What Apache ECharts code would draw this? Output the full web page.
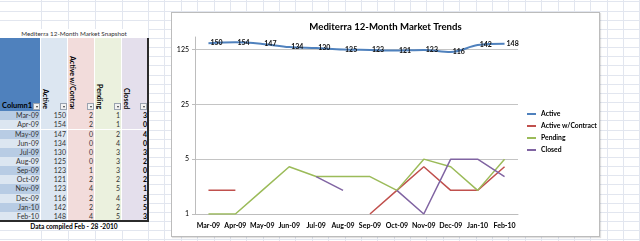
<!DOCTYPE html>
<html>
<head>
<meta charset="utf-8">
<script src="https://cdn.jsdelivr.net/npm/echarts@6/dist/echarts.min.js"></script>
<style>
  html, body { margin: 0; padding: 0; background: #fff; }
  body { width: 640px; height: 241px; position: relative; overflow: hidden; font-family: Lato, 'Liberation Sans', sans-serif; }
  .gl { position: absolute; background: #e2e6ef; }
  .cell { position: absolute; box-sizing: border-box; }
  .txt { position: absolute; font-size: 7px; color: #222; white-space: nowrap; }
  .vt { position: absolute; writing-mode: vertical-rl; font-size: 7px; font-weight: bold; color: #000; white-space: nowrap; overflow: hidden; }
  .btn { position: absolute; width: 7px; height: 7px; box-sizing: border-box; border: 1px solid #9aa3b0; background: #f2f2f2; }
  .btn:after { content: ''; position: absolute; left: 1.5px; top: 2px; border-left: 1.5px solid transparent; border-right: 1.5px solid transparent; border-top: 2px solid #333; }
  #frame { position: absolute; left: 171px; top: 12px; width: 427px; height: 223px; border: 1px solid #bcbcbc; background: #fff; box-shadow: 1px 1px 1px rgba(0,0,0,0.12); }
  #chart { width: 427px; height: 223px; }
</style>
</head>
<body>
<div id="sheet"></div>
<div id="frame"><div id="chart"></div></div>
<script>
const months = ['Mar-09', 'Apr-09', 'May-09', 'Jun-09', 'Jul-09', 'Aug-09', 'Sep-09', 'Oct-09', 'Nov-09', 'Dec-09', 'Jan-10', 'Feb-10'];
const active = [150, 154, 147, 134, 130, 125, 123, 121, 123, 116, 142, 148];
const activeContract = [2, 2, 0, 0, 0, 0, 1, 2, 4, 2, 2, 4];
const pending = [1, 1, 2, 4, 3, 3, 3, 2, 5, 4, 2, 5];
const closed = [3, 0, 4, 0, 3, 2, 0, 2, 1, 5, 5, 3];
const seriesNames = ['Active', 'Active w/Contract', 'Pending', 'Closed'];
const yTicks = [1, 5, 25, 125];

// ---- spreadsheet backdrop ----
const sheet = document.getElementById('sheet');
const ROW0 = 1.4, ROWH = 9.15;
const colEdges = [41, 68, 95, 122, 148];
for (let x = 148 + 16.38; x < 640; x += 16.38) colEdges.push(x);

function add(cls, style, text) {
  const d = document.createElement('div');
  d.className = cls;
  Object.assign(d.style, style);
  if (text != null) d.textContent = text;
  sheet.appendChild(d);
  return d;
}
for (let k = 0; k < 27; k++) add('gl', { left: '0px', top: (ROW0 + ROWH * k) + 'px', width: '640px', height: '1px' });
colEdges.forEach(x => add('gl', { left: x + 'px', top: '0px', width: '1px', height: '241px' }));

// ---- table ----
const cols = [
  { x0: 0, x1: 41, head: '#4f81bd', fill: ['#b8cce4', '#dce6f1'] },
  { x0: 41, x1: 68, head: '#dce6f1', fill: ['#dce6f1', '#dce6f1'] },
  { x0: 68, x1: 95, head: '#f2dcdb', fill: ['#f2dcdb', '#f2dcdb'] },
  { x0: 95, x1: 122, head: '#ebf1de', fill: ['#ebf1de', '#ebf1de'] },
  { x0: 122, x1: 148, head: '#e4dfec', fill: ['#e4dfec', '#e4dfec'] }
];
const headTop = ROW0 + ROWH * 4, rowTop = ROW0 + ROWH * 12, tableBottom = ROW0 + ROWH * 24;

add('cell', { left: '0px', top: headTop + 'px', width: '148px', height: (tableBottom - headTop) + 'px', background: '#fff' });
cols.forEach((c, ci) => {
  add('cell', { left: c.x0 + 'px', top: headTop + 'px', width: (c.x1 - c.x0 - 1) + 'px', height: (rowTop - headTop) + 'px', background: c.head });
  months.forEach((m, i) => {
    add('cell', { left: c.x0 + 'px', top: (rowTop + ROWH * i) + 'px', width: (c.x1 - c.x0 - 1) + 'px', height: ROWH + 'px', background: c.fill[i % 2] });
  });
  add('btn', { left: (c.x1 - 8) + 'px', top: '102.5px' });
});

add('txt', { left: '0px', top: '29px', width: '148px', textAlign: 'center', fontSize: '6.3px', color: '#333', lineHeight: '9px', background: '#fff' }, 'Mediterra 12-Month Market Snapshot');
add('txt', { left: '2px', top: '101px', fontWeight: 'bold', color: '#000', fontSize: '7.5px', lineHeight: '9px' }, 'Column1');
add('vt', { left: '42px', bottom: '132px' }, 'Active');
add('vt', { left: '69px', top: '56px', height: '53px' }, 'Active w/Contract');
add('vt', { left: '96px', bottom: '132px' }, 'Pending');
add('vt', { left: '123px', bottom: '132px' }, 'Closed');

const valueCols = [months, active, activeContract, pending, closed];
valueCols.forEach((arr, ci) => {
  const c = cols[ci];
  arr.forEach((v, i) => {
    add('txt', {
      left: c.x0 + 'px', top: (rowTop + ROWH * i) + 'px', width: (c.x1 - c.x0 - (ci === 4 ? 1 : 2)) + 'px',
      lineHeight: ROWH + 'px', textAlign: 'right', fontWeight: ci === 4 ? 'bold' : 'normal', color: ci === 4 ? '#000' : '#333'
    }, v);
  });
});
add('cell', { left: '147px', top: headTop + 'px', width: '2px', height: (tableBottom - headTop + 1) + 'px', background: '#2b2b2b' });
add('cell', { left: '0px', top: (tableBottom - 1) + 'px', width: '149px', height: '2px', background: '#2b2b2b' });
add('txt', { left: '0px', top: (tableBottom + 1) + 'px', width: '148px', height: '8px', textAlign: 'center', fontSize: '6.6px', fontWeight: 'bold', color: '#000', lineHeight: '8px', background: '#fff' }, 'Data compiled Feb - 28 -2010');

// ---- chart ----
const chart = echarts.init(document.getElementById('chart'), null, { renderer: 'canvas' });
const gap = arr => arr.map(v => (v > 0 ? v : '-'));
const colors = ['#4f81bd', '#c0504d', '#9bbb59', '#8064a2'];
const seriesData = [active, activeContract, pending, closed];

chart.setOption({
  animation: false,
  color: colors,
  textStyle: { fontFamily: 'Lato' },
  title: {
    text: 'Mediterra 12-Month Market Trends',
    left: 'center',
    top: 4,
    textStyle: { fontSize: 9.6, fontWeight: 'bold', color: '#000' }
  },
  legend: {
    orient: 'vertical',
    left: 350,
    top: 92,
    icon: 'rect',
    itemWidth: 9,
    itemHeight: 2,
    itemGap: 4,
    textStyle: { fontSize: 6.8, fontWeight: 'bold', color: '#000', lineHeight: 8 },
    data: seriesNames
  },
  grid: { left: 23, top: 24, width: 323, height: 177, containLabel: false },
  xAxis: {
    type: 'category',
    data: months,
    boundaryGap: true,
    axisTick: { show: false },
    axisLine: { lineStyle: { color: '#bdbdbd', width: 1 } },
    axisLabel: { interval: 0, fontSize: 7, fontWeight: 'bold', color: '#000', margin: 8 }
  },
  yAxis: {
    type: 'log',
    logBase: 5,
    min: yTicks[0],
    max: 180,
    splitNumber: 3,
    axisLine: { show: true, lineStyle: { color: '#bdbdbd' } },
    axisTick: { show: true, length: 3, lineStyle: { color: '#bdbdbd' } },
    axisLabel: {
      fontSize: 7, color: '#000', margin: 6, showMaxLabel: false,
      formatter: v => (yTicks.indexOf(Math.round(v)) >= 0 ? String(Math.round(v)) : '')
    },
    splitLine: { show: true, showMaxLine: false, lineStyle: { color: '#c4c4c4', width: 1 } }
  },
  series: seriesData.map((arr, i) => ({
    name: seriesNames[i],
    type: 'line',
    data: gap(arr),
    symbol: 'circle',
    symbolSize: 0.01,
    showSymbol: i === 0,
    smooth: i === 0 ? 0.35 : false,
    connectNulls: false,
    lineStyle: { width: i === 0 ? 2 : 1.5, color: colors[i] },
    label: i === 0 ? {
      show: true, position: 'right', distance: 2,
      fontSize: 7, fontWeight: 'bold', color: '#111'
    } : { show: false },
    emphasis: { disabled: true }
  }))
});
</script>
</body>
</html>
